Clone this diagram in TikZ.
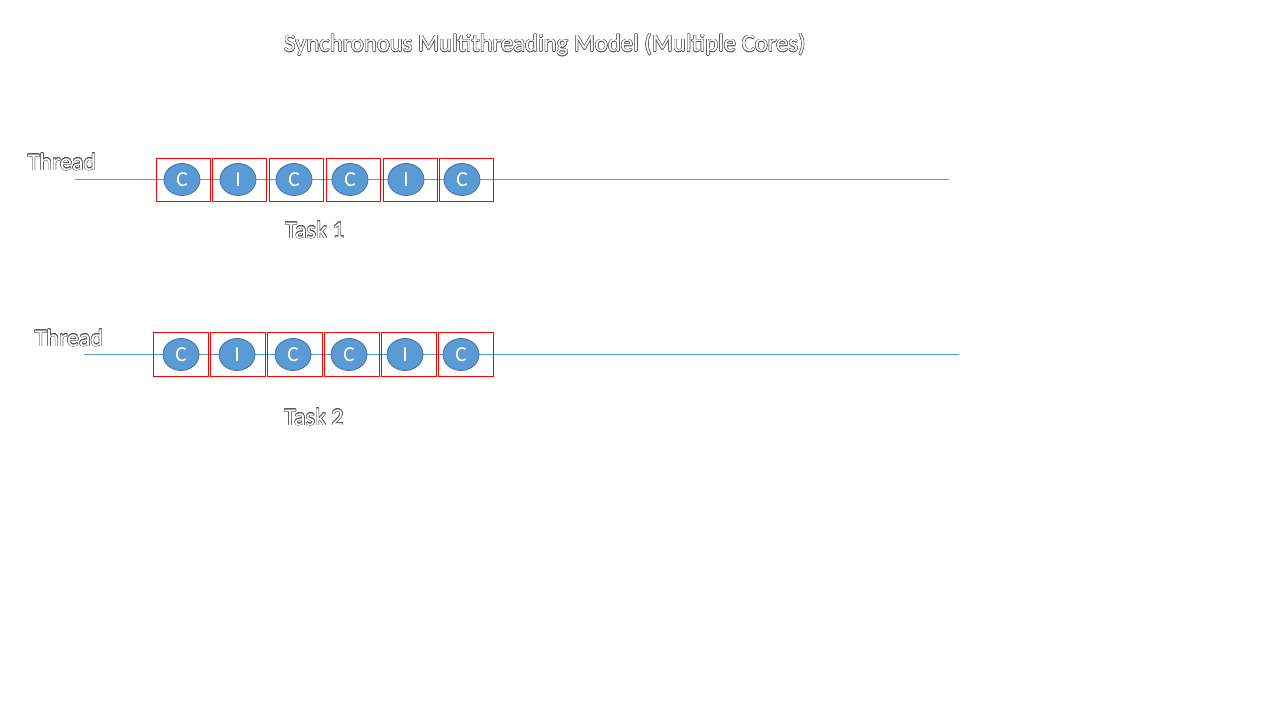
\documentclass[tikz,border=0pt]{standalone}
\usepackage{fontspec}
\setmainfont{Carlito}
\usepackage{contour}
\contourlength{0.35pt}
\contournumber{16}
\usetikzlibrary{shapes.geometric}
\definecolor{blueA}{HTML}{5B9BD5}
\definecolor{blueB}{HTML}{41719C}
\definecolor{outl}{HTML}{595959}
\newcommand{\otext}[1]{\contour{outl}{\textcolor{white}{#1}}}
\tikzset{
  px/.style={x=0.75pt,y=-0.75pt},
  lbl/.style={inner sep=0pt,font=\fontsize{18}{20}\selectfont},
  slotA/.style={draw=red,line width=0.75pt,minimum width=40.5pt,minimum height=32.25pt,inner sep=0pt},
  slotB/.style={draw=red,line width=0.75pt,minimum width=41.25pt,minimum height=33pt,inner sep=0pt},
  op/.style={ellipse,fill=blueA,draw=blueB,line width=0.6pt,minimum width=27pt,minimum height=24pt,inner sep=0pt,text=white,font=\fontsize{16}{18}\selectfont},
  tl/.style={draw=blueA,line width=0.75pt}
}
\begin{document}
\begin{tikzpicture}[px]
\useasboundingbox (0,0) rectangle (1280,720);
\fill[white] (0,0) rectangle (1280,720);
\node[lbl,font=\fontsize{18.5}{20}\selectfont] (title) at (545,45) {\otext{Synchronous Multithreading Model (Multiple Cores)}};
% row 1
\node[lbl] (th1) at (62,162) {\otext{Thread}};
\coordinate (l1s) at (75,179.5);
\coordinate (l1e) at (949,179.5);
\draw[tl] (l1s) -- (l1e);
\foreach \i/\x in {1/183.5,2/239.5,3/296.5,4/353.5,5/410.5,6/466.5}{
  \node[slotA] (b1\i) at (\x,180) {};
}
\foreach \i/\x/\t in {1/182/C,2/238/I,3/294/C,4/350/C,5/406/I,6/462/C}{
  \node[op] (e1\i) at (\x,179.5) {\t};
}
\node[lbl] (task1) at (315,230) {\otext{Task 1}};
% row 2
\node[lbl] (th2) at (69,338) {\otext{Thread}};
\coordinate (l2s) at (84,354.5);
\coordinate (l2e) at (959,354.5);
\draw[tl] (l2s) -- (l2e);
\foreach \i/\x in {1/181,2/238,3/295,4/352,5/409,6/466}{
  \node[slotB] (b2\i) at (\x,354.5) {};
}
\foreach \i/\x/\t in {1/181/C,2/237/I,3/293/C,4/349/C,5/405/I,6/461/C}{
  \node[op] (e2\i) at (\x,354.5) {\t};
}
\node[lbl] (task2) at (314,417) {\otext{Task 2}};
\end{tikzpicture}
\end{document}
